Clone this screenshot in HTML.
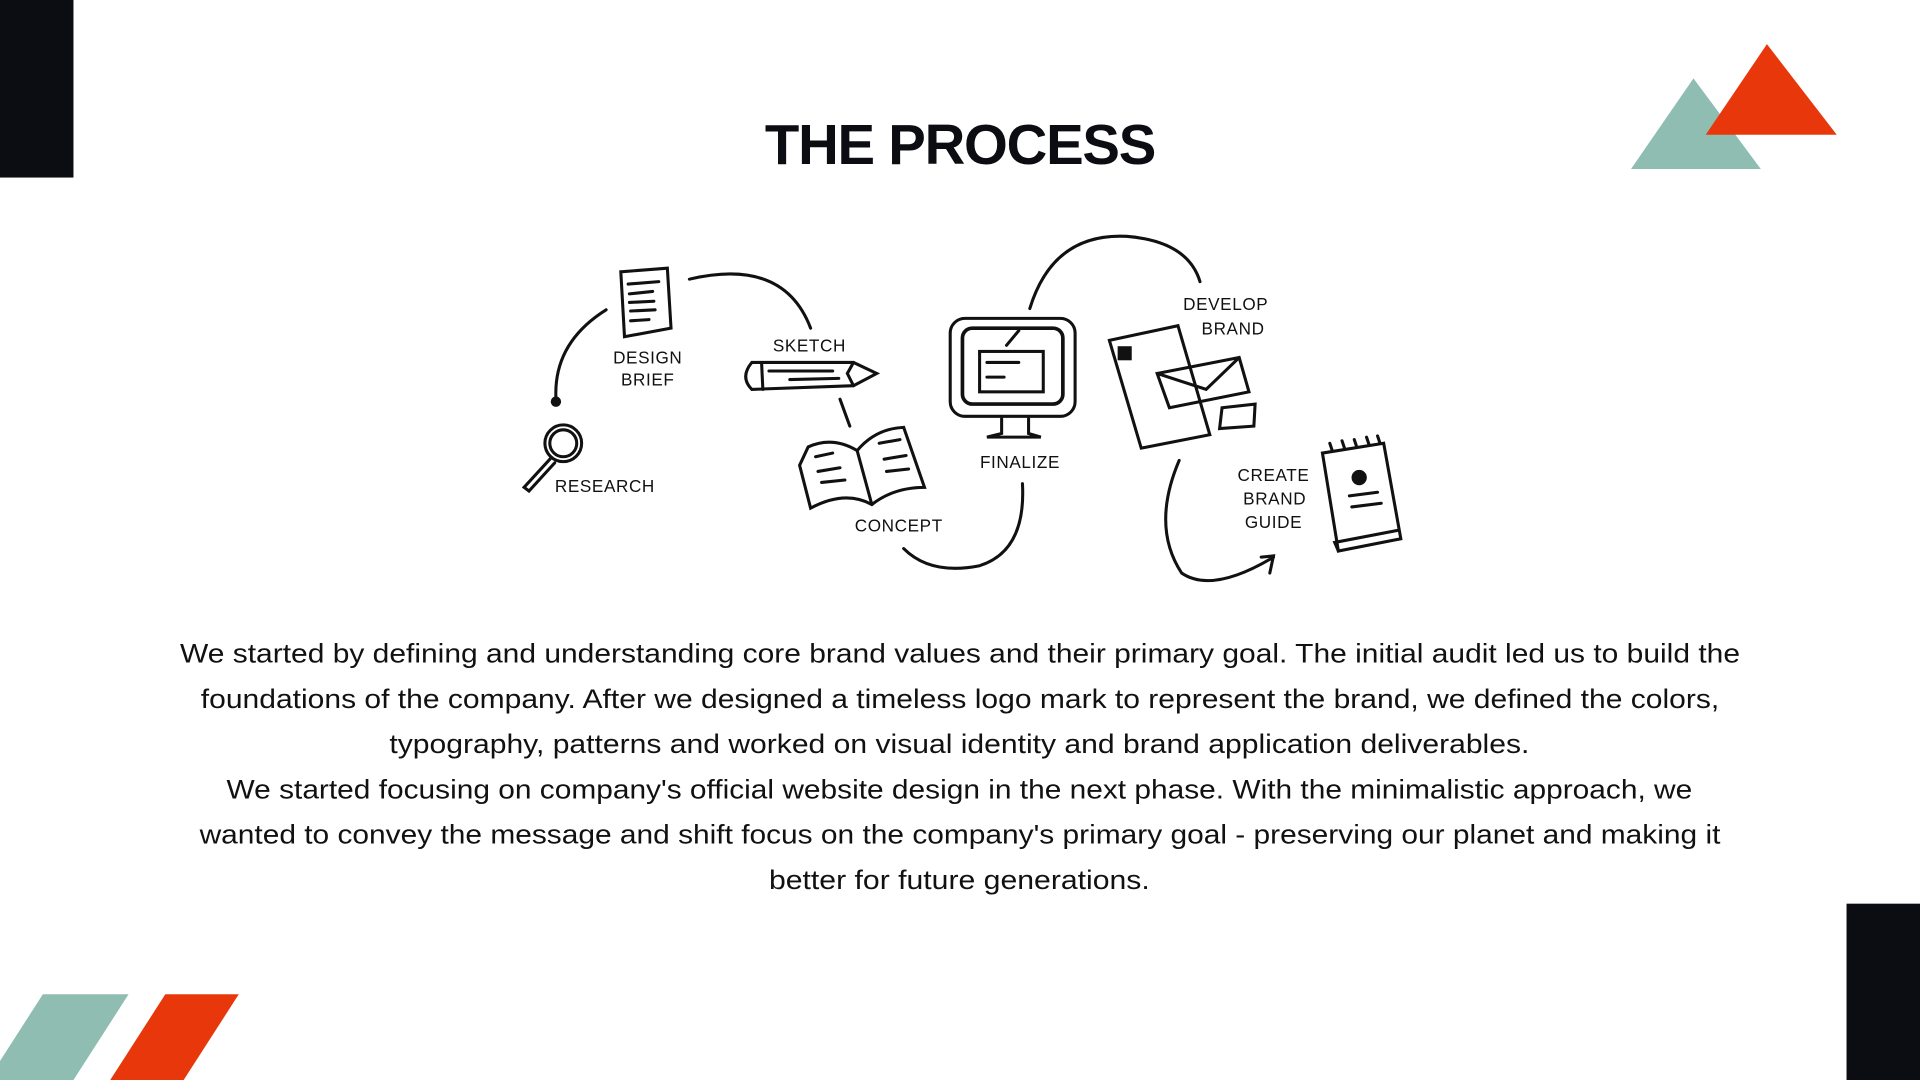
<!DOCTYPE html>
<html><head><meta charset="utf-8"><style>
html,body{margin:0;padding:0;background:#fff;}
svg{display:block}
</style></head><body>
<svg width="1920" height="1080" viewBox="0 0 1568 882" xmlns="http://www.w3.org/2000/svg">
<rect width="1568" height="882" fill="#fff"/>
<rect x="0" y="0" width="60" height="145" fill="#0b0d12"/>
<rect x="1508" y="738" width="60" height="144" fill="#0b0d12"/>
<polygon points="1383,64 1332,138 1438,138" fill="#8fbdb1"/>
<polygon points="1443,36 1393,110 1500,110" fill="#e8380b"/>
<polygon points="35,812 105,812 60,882 -10,882" fill="#8fbdb1"/>
<polygon points="135,812 195,812 150,882 90,882" fill="#e8380b"/>
<text x="784" y="134" text-anchor="middle" font-family="Liberation Sans, sans-serif" font-weight="bold" font-size="46" fill="#0b0d12" letter-spacing="-1">THE PROCESS</text>

<g fill="none" stroke="#111" stroke-width="2.5" stroke-linecap="round">
 <path d="M495,253 Q452,280 454,325"/>
 <circle cx="454" cy="328" r="3" fill="#111"/>
 <path d="M563,228 Q640,210 662,268"/>
 <path d="M686,326 L694,348"/>
 <path d="M738,448 Q760,470 800,462 Q838,450 835,395"/>
 <path d="M841,252 Q860,190 920,193 Q970,197 980,230"/>
 <path d="M963,376 Q940,430 965,468 Q990,485 1040,455"/>
 <path d="M1030,455 L1040,454 L1037,468"/>
 <circle cx="460" cy="362" r="15"/>
 <circle cx="460" cy="362" r="11"/>
 <path d="M450,374 L428,398 L432,401 L453,378"/>
 <path d="M507,222 L545,219 L548,268 L510,275 Z"/>
 <path d="M513,232 L538,230 M514,240 L533,238 M514,247 L534,246 M515,254 L535,253 M515,262 L530,261"/>
 <path d="M614,296 L697,296 L716,305 L697,315 L614,318 Q604,308 614,296 Z"/>
 <path d="M622,297 L623,318 M628,303 L680,303 M645,310 L685,309 M697,296 L692,305 L697,315"/>
 <path d="M660,365 Q680,356 700,368 Q715,350 738,349 L755,398 Q730,398 712,412 Q690,400 662,415 L653,380 Z"/>
 <path d="M700,368 L712,412"/>
 <path d="M666,373 L680,370 M668,385 L686,382 M671,394 L690,392 M718,362 L735,359 M722,375 L740,372 M724,385 L742,383"/>
 <rect x="776" y="260" width="102" height="80" rx="12"/>
 <rect x="786" y="268" width="82" height="62" rx="8" stroke-width="3"/>
 <rect x="800" y="287" width="52" height="33"/>
 <path d="M818,342 L818,354 L806,357 L850,357 L840,354 L840,342"/>
 <path d="M806,296 L832,296 M806,308 L820,308 M822,282 L832,270"/>
 <path d="M906,278 L962,266 L988,355 L932,366 Z"/>
 <path d="M945,305 L1012,292 L1020,320 L955,333 Z M945,305 L985,318 L1012,292"/>
 <path d="M998,333 L1025,330 L1024,348 L996,350 Z"/>
 <rect x="914" y="284" width="9" height="9" fill="#111"/>
 <path d="M1080,370 L1130,362 L1144,440 L1093,450 Z"/>
 <path d="M1093,450 L1090,443 L1142,433"/>
 <path d="M1088,368 L1086,362 M1098,366 L1096,360 M1108,365 L1106,359 M1118,363 L1116,357 M1127,362 L1125,356"/>
 <circle cx="1110" cy="390" r="5" fill="#111"/>
 <path d="M1102,405 L1125,402 M1104,414 L1128,411"/>
</g>

<g font-family="Liberation Sans, sans-serif" font-size="14" fill="#111" letter-spacing="0.5">
 <text x="529" y="297" text-anchor="middle">DESIGN</text>
 <text x="529" y="315" text-anchor="middle">BRIEF</text>
 <text x="661" y="287" text-anchor="middle">SKETCH</text>
 <text x="494" y="402" text-anchor="middle">RESEARCH</text>
 <text x="734" y="434" text-anchor="middle">CONCEPT</text>
 <text x="833" y="382" text-anchor="middle">FINALIZE</text>
 <text x="1001" y="253" text-anchor="middle">DEVELOP</text>
 <text x="1007" y="273" text-anchor="middle">BRAND</text>
 <text x="1040" y="393" text-anchor="middle">CREATE</text>
 <text x="1041" y="412" text-anchor="middle">BRAND</text>
 <text x="1040" y="431" text-anchor="middle">GUIDE</text>
</g>

<g font-family="Liberation Sans, sans-serif" font-size="22" fill="#111">
 <text x="147" y="541" textLength="1274" lengthAdjust="spacingAndGlyphs">We started by defining and understanding core brand values and their primary goal. The initial audit led us to build the</text>
 <text x="164" y="578" textLength="1240" lengthAdjust="spacingAndGlyphs">foundations of the company. After we designed a timeless logo mark to represent the brand, we defined the colors,</text>
 <text x="318" y="615" textLength="931" lengthAdjust="spacingAndGlyphs">typography, patterns and worked on visual identity and brand application deliverables.</text>
 <text x="185" y="652" textLength="1197" lengthAdjust="spacingAndGlyphs">We started focusing on company's official website design in the next phase. With the minimalistic approach, we</text>
 <text x="163" y="689" textLength="1242" lengthAdjust="spacingAndGlyphs">wanted to convey the message and shift focus on the company's primary goal - preserving our planet and making it</text>
 <text x="628" y="726" textLength="311" lengthAdjust="spacingAndGlyphs">better for future generations.</text>
</g>
</svg>
</body></html>
